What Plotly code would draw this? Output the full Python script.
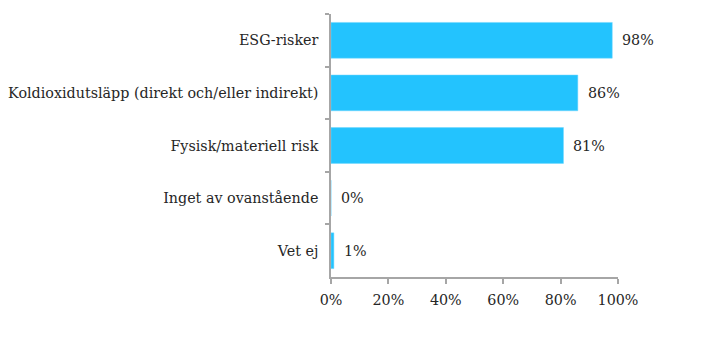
import plotly.graph_objects as go

categories = ["ESG-risker", "Koldioxidutsläpp (direkt och/eller indirekt)",
              "Fysisk/materiell risk", "Inget av ovanstående", "Vet ej"]
values = [0.98, 0.86, 0.81, 0.0, 0.01]
labels = ["98%", "86%", "81%", "0%", "1%"]
tick_vals = [0, 0.2, 0.4, 0.6, 0.8, 1.0]
tick_text = ["0%", "20%", "40%", "60%", "80%", "100%"]

FONT = "DejaVu Serif"
TXT = "#262626"
AX = "#A6A6A6"
FS = 14.3

fig = go.Figure(go.Bar(
    y=categories, x=values, orientation="h",
    marker=dict(color="#23C3FE", line=dict(color="#6FD6FE", width=0.5)),
    width=0.68,
))

for c, v, t in zip(categories, values, labels):
    fig.add_annotation(x=v, y=c, text=t, showarrow=False, xanchor="left",
                       xshift=8, font=dict(family=FONT, size=FS, color=TXT))

fig.update_layout(
    width=711, height=339,
    margin=dict(l=331, r=93, t=14, b=62),
    plot_bgcolor="white", paper_bgcolor="white",
    showlegend=False,
    font=dict(family=FONT, size=FS, color=TXT),
)
fig.update_xaxes(range=[0, 1], tickvals=tick_vals, ticktext=tick_text,
                 showgrid=False, zeroline=False, showline=True, linecolor=AX,
                 linewidth=1.5, ticks="outside", ticklen=5, tickcolor=AX,
                 tickwidth=1.5, ticklabelstandoff=4, automargin=False,
                 tickfont=dict(family=FONT, size=FS, color=TXT))
fig.update_yaxes(autorange="reversed", showgrid=False, showline=True,
                 linecolor=AX, linewidth=1.5, ticks="outside", ticklen=4,
                 tickcolor=AX, tickwidth=1.5, tickson="boundaries",
                 ticklabelstandoff=8, automargin=False,
                 tickfont=dict(family=FONT, size=FS, color=TXT))

fig.write_html("out.html")
